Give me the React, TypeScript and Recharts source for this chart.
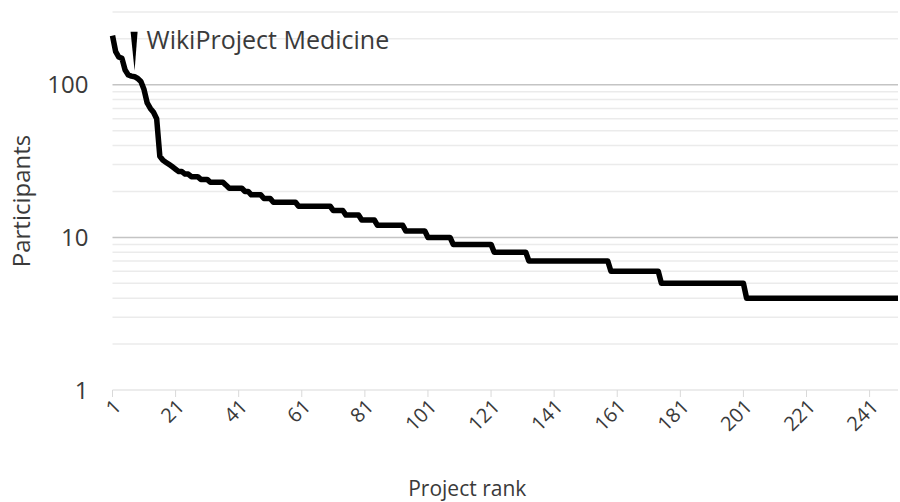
import React from "react";
import {
  LineChart,
  Line,
  XAxis,
  YAxis,
  ReferenceLine,
  ReferenceDot,
  Label,
} from "recharts";

// participants per project, ordered by rank (1..250)
const participants = [
  210, 165, 152, 149, 125, 116, 114, 113, 110, 105,
  93, 76, 70, 66, 60, 34, 32, 31, 30, 29,
  28, 27, 27, 26, 26, 25, 25, 25, 24, 24,
  24, 23, 23, 23, 23, 23, 22, 21, 21, 21,
  21, 21, 20, 20, 19, 19, 19, 19, 18, 18,
  18, 17, 17, 17, 17, 17, 17, 17, 17, 16,
  16, 16, 16, 16, 16, 16, 16, 16, 16, 16,
  15, 15, 15, 15, 14, 14, 14, 14, 14, 13,
  13, 13, 13, 13, 12, 12, 12, 12, 12, 12,
  12, 12, 12, 11, 11, 11, 11, 11, 11, 11,
  10, 10, 10, 10, 10, 10, 10, 10, 9, 9,
  9, 9, 9, 9, 9, 9, 9, 9, 9, 9,
  9, 8, 8, 8, 8, 8, 8, 8, 8, 8,
  8, 8, 7, 7, 7, 7, 7, 7, 7, 7,
  7, 7, 7, 7, 7, 7, 7, 7, 7, 7,
  7, 7, 7, 7, 7, 7, 7, 7, 6, 6,
  6, 6, 6, 6, 6, 6, 6, 6, 6, 6,
  6, 6, 6, 6, 5, 5, 5, 5, 5, 5,
  5, 5, 5, 5, 5, 5, 5, 5, 5, 5,
  5, 5, 5, 5, 5, 5, 5, 5, 5, 5,
  5, 4, 4, 4, 4, 4, 4, 4, 4, 4,
  4, 4, 4, 4, 4, 4, 4, 4, 4, 4,
  4, 4, 4, 4, 4, 4, 4, 4, 4, 4,
  4, 4, 4, 4, 4, 4, 4, 4, 4, 4,
  4, 4, 4, 4, 4, 4, 4, 4, 4, 4,
];

const rankTicks = [1, 21, 41, 61, 81, 101, 121, 141, 161, 181, 201, 221, 241];
const yTicks = [1, 10, 100];
const majorGrid = [10, 100];
const minorGrid = [2, 3, 4, 5, 6, 7, 8, 9, 20, 30, 40, 50, 60, 70, 80, 90, 200, 300];

const highlightRank = 8;
const highlightName = "WikiProject Medicine";

const data = participants.map((v, i) => ({ rank: i + 1, participants: v }));

const FONT = "'Open Sans', sans-serif";
const TEXT = "#3a3a3a";

const RankTick = (props: any) => {
  const { x, y, payload } = props;
  return (
    <g transform={`translate(${x + 5},${y + 4})`}>
      <text
        x={0}
        y={0}
        dy="0.35em"
        textAnchor="end"
        transform="rotate(-45)"
        fill={TEXT}
        fontSize={20}
        fontFamily={FONT}
      >
        {payload.value}
      </text>
    </g>
  );
};

const Marker = (props: any) => {
  const { cx, cy } = props;
  return (
    <g>
      <polygon
        points={`${cx - 4},${cy - 45} ${cx + 3},${cy - 45} ${cx},${cy - 6}`}
        fill="#000"
      />
      <text
        x={cx + 12}
        y={cy - 28}
        fill={TEXT}
        fontSize={25}
        fontFamily={FONT}
      >
        {highlightName}
      </text>
    </g>
  );
};

export default function App() {
  return (
    <div style={{ position: "absolute", left: 0, top: 0, background: "#fff" }}>
      <LineChart
        width={900}
        height={502}
        data={data}
        margin={{ top: 12, right: 2, bottom: 0, left: 0 }}
      >
        {minorGrid.map((v) => (
          <ReferenceLine key={`m${v}`} y={v} stroke="#ebebeb" strokeWidth={1.5} />
        ))}
        {majorGrid.map((v) => (
          <ReferenceLine key={`M${v}`} y={v} stroke="#c4c4c4" strokeWidth={1.5} />
        ))}
        <XAxis
          dataKey="rank"
          type="number"
          domain={[1, 250]}
          ticks={rankTicks}
          interval={0}
          height={112}
          tickSize={7}
          tickMargin={2}
          stroke="#d9d9d9"
          tick={<RankTick />}
        >
          <Label
            value="Project rank"
            position="insideBottom"
            offset={6}
            dx={-38}
            fill={TEXT}
            fontSize={21}
            fontFamily={FONT}
          />
        </XAxis>
        <YAxis
          scale="log"
          domain={[1, 300]}
          ticks={yTicks}
          allowDataOverflow
          width={112.5}
          axisLine={false}
          tickLine={false}
          tickSize={0}
          tickMargin={24}
          tick={{ fill: TEXT, fontSize: 24, fontFamily: FONT }}
        >
          <Label
            value="Participants"
            angle={-90}
            position="insideLeft"
            offset={21}
            style={{ textAnchor: "middle" }}
            fill={TEXT}
            fontSize={24}
            fontFamily={FONT}
          />
        </YAxis>
        <Line
          type="linear"
          dataKey="participants"
          stroke="#000"
          strokeWidth={5.5}
          strokeLinejoin="round"
          dot={false}
          isAnimationActive={false}
        />
        <ReferenceDot
          x={highlightRank}
          y={participants[highlightRank - 1]}
          r={0}
          ifOverflow="visible"
          shape={<Marker />}
        />
      </LineChart>
    </div>
  );
}
